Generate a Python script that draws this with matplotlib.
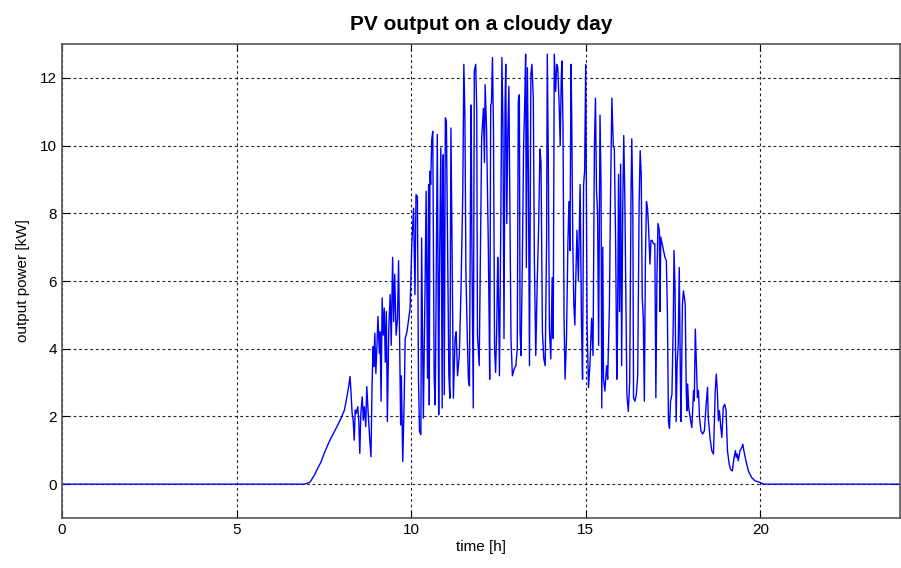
import matplotlib
matplotlib.use("Agg")
import matplotlib.pyplot as plt

# Time [h] and PV output [kW]
time_h = [
    0.0, 6.94, 7.09, 7.13, 7.23, 7.32, 7.42, 7.51, 7.61, 7.70, 7.80, 7.90, 7.99,
    8.09, 8.16, 8.21, 8.25, 8.28, 8.31, 8.34, 8.37, 8.40, 8.43, 8.47, 8.50,
    8.53, 8.56, 8.60, 8.63, 8.66, 8.70, 8.73, 8.77, 8.81, 8.85, 8.88, 8.91,
    8.93, 8.96, 8.99, 9.02, 9.05, 9.09,
    9.11, 9.14, 9.17, 9.20, 9.23, 9.26, 9.29, 9.32, 9.36, 9.40, 9.43, 9.47,
    9.50, 9.53, 9.57, 9.61, 9.64, 9.67, 9.70, 9.72, 9.76, 9.80, 9.83, 9.88,
    9.92, 9.97, 10.02, 10.07, 10.11, 10.14, 10.18, 10.21, 10.24, 10.28, 10.30,
    10.33, 10.35, 10.40, 10.43, 10.47, 10.50, 10.52, 10.54, 10.56, 10.59,
    10.62, 10.66, 10.69, 10.73, 10.75, 10.79, 10.81, 10.85, 10.89, 10.90,
    10.92, 10.95, 10.98, 11.01, 11.05, 11.08, 11.11, 11.14, 11.17, 11.21, 11.26,
    11.29, 11.33, 11.38, 11.43, 11.48, 11.51, 11.54, 11.57, 11.61, 11.64,
    11.67, 11.70, 11.72, 11.74, 11.78, 11.81, 11.85, 11.88, 11.90, 11.95,
    11.98, 12.02, 12.07, 12.10, 12.12, 12.16, 12.21, 12.23, 12.25, 12.28,
    12.30, 12.33, 12.36, 12.39, 12.42, 12.45, 12.48, 12.50, 12.53, 12.57,
    12.60, 12.63, 12.66, 12.69, 12.71, 12.74, 12.77, 12.80, 12.83, 12.86,
    12.90, 12.95, 13.00, 13.04, 13.07, 13.10, 13.12, 13.15, 13.19, 13.22,
    13.25, 13.28, 13.30, 13.33, 13.36, 13.39, 13.43,
    13.46, 13.50, 13.53, 13.57, 13.61, 13.65, 13.69, 13.72, 13.76, 13.80,
    13.84, 13.88, 13.90, 13.93, 13.96, 14.00, 14.04, 14.07, 14.10, 14.14,
    14.17, 14.20, 14.24, 14.27, 14.30, 14.32, 14.35, 14.38, 14.41, 14.45,
    14.49, 14.52, 14.55, 14.58, 14.60, 14.63, 14.66, 14.69, 14.71, 14.75,
    14.79, 14.84, 14.88, 14.91, 14.94, 14.97, 15.00, 15.04, 15.08, 15.12,
    15.17, 15.21, 15.25, 15.28, 15.31, 15.34, 15.37, 15.41, 15.44, 15.46,
    15.49, 15.51, 15.55, 15.60,
    15.63, 15.68, 15.71, 15.75, 15.79, 15.82, 15.86, 15.89, 15.91, 15.94,
    15.97, 16.00, 16.03, 16.06, 16.09, 16.12, 16.15, 16.18, 16.22, 16.26,
    16.30, 16.32, 16.35, 16.37, 16.41, 16.45, 16.49, 16.53, 16.56, 16.59,
    16.62, 16.65, 16.68, 16.71, 16.74, 16.77, 16.80, 16.84, 16.87, 16.90,
    16.94, 16.98, 17.01, 17.04, 17.07, 17.11, 17.13, 17.15, 17.19, 17.23,
    17.27, 17.31, 17.34, 17.37, 17.40, 17.43, 17.47, 17.51, 17.53, 17.56,
    17.59, 17.62, 17.65, 17.68, 17.71, 17.73, 17.77,
    17.80, 17.85, 17.88, 17.90, 17.92, 17.95, 17.99, 18.04, 18.09, 18.11,
    18.14, 18.17, 18.20, 18.23, 18.26, 18.30, 18.35, 18.40, 18.45, 18.49,
    18.51, 18.56, 18.61, 18.66, 18.69, 18.71, 18.74, 18.77, 18.80, 18.83,
    18.87, 18.90, 18.94, 18.98, 19.02, 19.06, 19.11, 19.15, 19.20, 19.25,
    19.29, 19.31, 19.34, 19.37, 19.42, 19.47, 19.50, 19.53, 19.59, 19.66,
    19.75, 19.85, 19.99, 20.10, 24.0,
]

power_kw = [
    0.0, 0.0, 0.05, 0.10, 0.27, 0.46, 0.66, 0.91, 1.15, 1.35, 1.55, 1.75, 1.94,
    2.19, 2.58, 2.88, 3.18, 2.68, 2.09, 1.89, 1.30, 2.19, 2.09, 2.29, 1.89,
    0.91, 2.09, 2.58, 1.89, 2.29, 1.70, 2.88, 2.09, 1.40, 0.81, 2.88, 4.06,
    3.47, 4.46, 3.27, 4.06, 4.95, 3.87,
    4.50, 2.45, 5.50, 4.40, 5.20, 3.60, 5.10, 1.85, 4.60, 5.60, 4.10, 6.70,
    4.80, 6.20, 4.40, 4.90, 6.60, 4.30, 1.75, 3.20, 0.67, 2.45, 4.30, 4.50,
    4.80, 5.20, 7.10, 8.15, 5.60, 8.55, 8.50, 3.13, 1.56, 1.46, 7.27,
    4.12, 1.95, 5.89, 8.65, 3.13, 8.85, 2.34, 9.24, 8.85, 10.18,
    10.42, 3.13, 2.34, 7.47, 10.33, 2.05, 6.09, 9.93, 2.25, 8.26,
    9.73, 2.64, 10.82, 10.72, 6.29, 3.23, 2.54, 10.52, 7.27, 2.54, 4.32,
    4.50, 3.20, 3.80, 5.80, 8.65, 12.40, 10.90, 6.20, 4.30, 3.10,
    2.90, 8.45, 11.20, 7.10, 2.25, 12.20, 12.40, 11.00, 4.40, 3.50,
    6.50, 10.20, 11.10, 9.50, 11.80, 10.50, 7.10, 5.30, 3.10, 11.20,
    11.25, 12.60, 10.40, 4.00, 3.30, 4.50, 6.70, 5.70, 3.20, 7.90,
    12.60, 10.60, 4.30, 11.20, 12.40, 7.70, 10.40, 11.75, 8.05, 4.30,
    3.20, 3.40, 3.50, 4.00, 11.30, 11.50, 4.50, 3.80, 7.00, 9.90,
    11.10, 12.70, 6.40, 12.30, 9.00, 3.50, 12.10,
    12.40, 11.40, 6.60, 3.80, 5.90, 7.50, 9.90, 9.50, 4.50, 3.70,
    3.50, 7.20, 12.70, 9.45, 4.60, 3.70, 6.10, 4.30, 12.70, 11.60,
    12.40, 12.30, 11.20, 10.00, 12.00, 12.50, 10.60, 4.90, 3.10, 4.30,
    7.10, 8.35, 6.90, 12.40, 10.80, 7.20, 5.30, 4.70, 5.80, 7.50,
    6.00, 8.85, 4.70, 3.10, 8.85, 9.25, 12.40, 4.70, 2.85, 3.50,
    4.90, 3.80, 10.00, 11.40, 8.65, 8.05, 4.10, 10.90, 8.75, 2.25,
    7.00, 3.10, 2.75, 3.50,
    3.10, 5.30, 8.45, 11.40, 10.00, 9.90, 6.90, 3.10, 4.30, 9.15,
    5.10, 9.45, 3.50, 8.05, 10.30, 8.55, 5.50, 2.65, 2.15, 3.00,
    8.75, 10.20, 8.25, 2.55, 2.45, 2.65, 3.20, 8.25, 9.85, 9.15,
    5.50, 4.90, 2.45, 6.60, 8.35, 8.15, 7.60, 6.50, 7.20, 7.20,
    7.10, 7.10, 2.55, 6.10, 7.70, 7.50, 5.10, 7.30, 7.10, 6.90,
    6.70, 6.60, 5.10, 1.85, 1.65, 2.45, 2.65, 4.90, 6.90, 5.70,
    1.85, 3.60, 4.10, 6.40, 3.30, 1.85, 5.30,
    5.71, 5.32, 2.76, 2.17, 2.96, 2.27, 1.97, 1.67, 2.76, 2.46,
    4.58, 3.55, 2.56, 2.76, 1.97, 1.58, 1.48, 1.58, 2.36, 2.86,
    1.97, 1.38, 0.99, 0.89, 1.97, 2.76, 3.25, 2.76, 1.87, 2.17,
    1.67, 1.38, 2.27, 2.36, 2.17, 0.99, 0.59, 0.44, 0.39, 0.79,
    0.99, 0.79, 0.89, 0.69, 0.99, 1.08, 1.18, 0.99, 0.69, 0.39,
    0.20, 0.10, 0.05, 0.0, 0.0,
]

x_ticks = [0, 5, 10, 15, 20]
y_ticks = [0, 2, 4, 6, 8, 10, 12]

plt.rcParams['font.family'] = ['Liberation Sans', 'DejaVu Sans']

fig = plt.figure(figsize=(9.01, 5.68), dpi=100)
ax = fig.add_axes([0.0688, 0.088, 0.930, 0.8345])

ax.plot(time_h, power_kw, color='#0000ff', linewidth=1.0)

ax.set_xlim(0, 24)
ax.set_ylim(-1, 13)
ax.set_xticks(x_ticks)
ax.set_yticks(y_ticks)
ax.tick_params(direction='in', length=5, labelsize=11, colors='black',
               top=True, right=True)
ax.grid(True, color='#222222', linestyle=(0, (2.5, 2.5)), linewidth=0.8)
for sp in ax.spines.values():
    sp.set_color('#555555')
    sp.set_linewidth(1.2)

ax.set_xlabel('time [h]', fontsize=11, labelpad=2)
ax.set_ylabel('output power [kW]', fontsize=11, labelpad=7)
ax.set_title('PV output on a cloudy day', fontsize=15, fontweight='bold', pad=10)

fig.savefig('out.png', dpi=100)
